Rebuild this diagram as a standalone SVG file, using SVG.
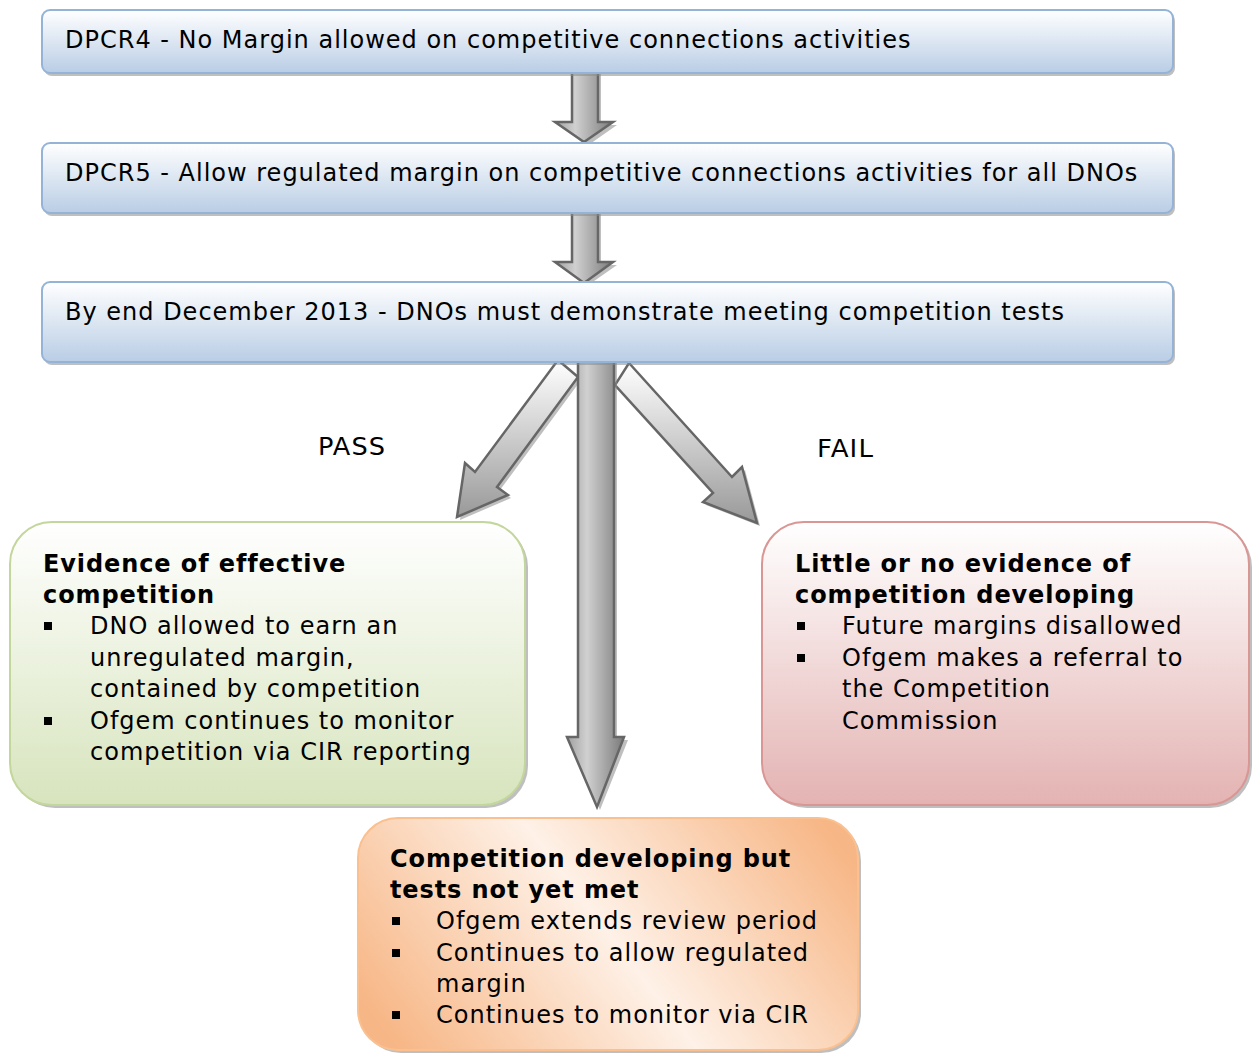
<svg xmlns="http://www.w3.org/2000/svg" width="1252" height="1053" viewBox="0 0 1252 1053">
<style>
.t{font-family:"DejaVu Sans","Verdana",sans-serif;font-size:24px;letter-spacing:1px;fill:#000}
.b{font-weight:bold;letter-spacing:0.9px}
.bul{fill:#000}
.arr{stroke:#666;stroke-width:2.5;stroke-linejoin:miter}
.sh{fill:#8a8a8a;opacity:0.55}
</style>
<defs>
<linearGradient id="gBlue" x1="0" y1="0" x2="0" y2="1"><stop offset="0" stop-color="#ffffff"/><stop offset="1" stop-color="#b9cde5"/></linearGradient>
<linearGradient id="gGreen" x1="0" y1="0" x2="0" y2="1"><stop offset="0" stop-color="#ffffff"/><stop offset="1" stop-color="#d7e4bd"/></linearGradient>
<linearGradient id="gRed" x1="0" y1="0" x2="0" y2="1"><stop offset="0" stop-color="#ffffff"/><stop offset="1" stop-color="#e3b3b2"/></linearGradient>
<linearGradient id="gOrange" gradientUnits="userSpaceOnUse" x1="420" y1="1080" x2="800" y2="790"><stop offset="0" stop-color="#f7b685"/><stop offset="0.5" stop-color="#fef1e7"/><stop offset="1" stop-color="#f7b685"/></linearGradient>
<linearGradient id="gArrV" x1="0" y1="0" x2="1" y2="0"><stop offset="0" stop-color="#a0a0a0"/><stop offset="0.35" stop-color="#d0d0d0"/><stop offset="1" stop-color="#7a7a7a"/></linearGradient>
<linearGradient id="gArrD" x1="0" y1="0" x2="0" y2="1"><stop offset="0" stop-color="#ffffff"/><stop offset="1" stop-color="#999999"/></linearGradient>
</defs>

<g id="connectors">
  <g id="arrow1">
    <polygon class="sh" points="575,74 601,74 601,125 617,125 587,146 558,125 575,125"/>
    <polygon class="arr" fill="url(#gArrV)" points="572,71 598,71 598,122 613,122 584,142 555,122 572,122"/>
  </g>
  <g id="arrow2">
    <polygon class="sh" points="575,213 601,213 601,265 617,265 587,286 558,265 575,265"/>
    <polygon class="arr" fill="url(#gArrV)" points="572,210 598,210 598,262 613,262 584,283 555,262 572,262"/>
  </g>
  <g id="arrowPass">
    <polygon class="sh" points="561,363 581,380 500,490 511,498 460,520 468,466 478,475"/>
    <polygon class="arr" fill="url(#gArrD)" points="558,360 578,377 497,487 508,495 457,517 465,463 475,472"/>
  </g>
  <g id="arrowFail">
    <polygon class="sh" points="632,366 735,480 745,470 760,526 706,505 716,496 618,388"/>
    <polygon class="arr" fill="url(#gArrD)" points="629,363 732,477 742,467 757,523 703,502 713,493 615,385"/>
  </g>
  <g id="arrowMid">
    <polygon class="sh" points="581,361 617,361 617,740 628,740 600,810 571,740 581,740"/>
    <polygon class="arr" fill="url(#gArrV)" points="578,358 614,358 614,737 624,737 597,807 567,737 578,737"/>
  </g>
  <text class="t" x="318" y="455" textLength="68" lengthAdjust="spacingAndGlyphs">PASS</text>
  <text class="t" x="817" y="457" textLength="57" lengthAdjust="spacingAndGlyphs">FAIL</text>
</g>

<g id="box1">
  <rect class="sh" x="44" y="13" width="1131" height="63" rx="8"/>
  <rect x="42" y="10" width="1131" height="63" rx="8" fill="url(#gBlue)" stroke="#95b3d7" stroke-width="2"/>
  <text class="t" x="65" y="48">DPCR4 - No Margin allowed on competitive connections activities</text>
</g>
<g id="box2">
  <rect class="sh" x="44" y="146" width="1131" height="70" rx="8"/>
  <rect x="42" y="143" width="1131" height="70" rx="8" fill="url(#gBlue)" stroke="#95b3d7" stroke-width="2"/>
  <text class="t" x="65" y="181">DPCR5 - Allow regulated margin on competitive connections activities for all DNOs</text>
</g>
<g id="box3">
  <rect class="sh" x="44" y="285" width="1131" height="80" rx="8"/>
  <rect x="42" y="282" width="1131" height="80" rx="8" fill="url(#gBlue)" stroke="#95b3d7" stroke-width="2"/>
  <text class="t" x="65" y="320">By end December 2013 - DNOs must demonstrate meeting competition tests</text>
</g>

<g id="pass">
  <rect class="sh" x="13" y="525" width="515" height="283" rx="42"/>
  <rect x="10" y="522" width="515" height="283" rx="42" fill="url(#gGreen)" stroke="#c3d69b" stroke-width="2"/>
  <text class="t b" x="43" y="572">Evidence of effective</text>
  <text class="t b" x="43" y="603">competition</text>
  <rect class="bul" x="44" y="622" width="8" height="8"/><text class="t" x="90" y="634">DNO allowed to earn an</text>
  <text class="t" x="90" y="666">unregulated margin,</text>
  <text class="t" x="90" y="697">contained by competition</text>
  <rect class="bul" x="44" y="717" width="8" height="8"/><text class="t" x="90" y="729">Ofgem continues to monitor</text>
  <text class="t" x="90" y="760">competition via CIR reporting</text>
</g>

<g id="fail">
  <rect class="sh" x="765" y="525" width="487" height="283" rx="42"/>
  <rect x="762" y="522" width="487" height="283" rx="42" fill="url(#gRed)" stroke="#d99694" stroke-width="2"/>
  <text class="t b" x="795" y="572">Little or no evidence of</text>
  <text class="t b" x="795" y="603">competition developing</text>
  <rect class="bul" x="797" y="622" width="8" height="8"/><text class="t" x="842" y="634">Future margins disallowed</text>
  <rect class="bul" x="797" y="654" width="8" height="8"/><text class="t" x="842" y="666">Ofgem makes a referral to</text>
  <text class="t" x="842" y="697">the Competition</text>
  <text class="t" x="842" y="729">Commission</text>
</g>

<g id="developing">
  <rect class="sh" x="361" y="821" width="500" height="232" rx="40"/>
  <rect x="358" y="818" width="500" height="232" rx="40" fill="url(#gOrange)" stroke="#fac090" stroke-width="2"/>
  <text class="t b" x="390" y="867">Competition developing but</text>
  <text class="t b" x="390" y="898">tests not yet met</text>
  <rect class="bul" x="392" y="917" width="8" height="8"/><text class="t" x="436" y="929">Ofgem extends review period</text>
  <rect class="bul" x="392" y="949" width="8" height="8"/><text class="t" x="436" y="961">Continues to allow regulated</text>
  <text class="t" x="436" y="992">margin</text>
  <rect class="bul" x="392" y="1011" width="8" height="8"/><text class="t" x="436" y="1023">Continues to monitor via CIR</text>
</g>
</svg>
